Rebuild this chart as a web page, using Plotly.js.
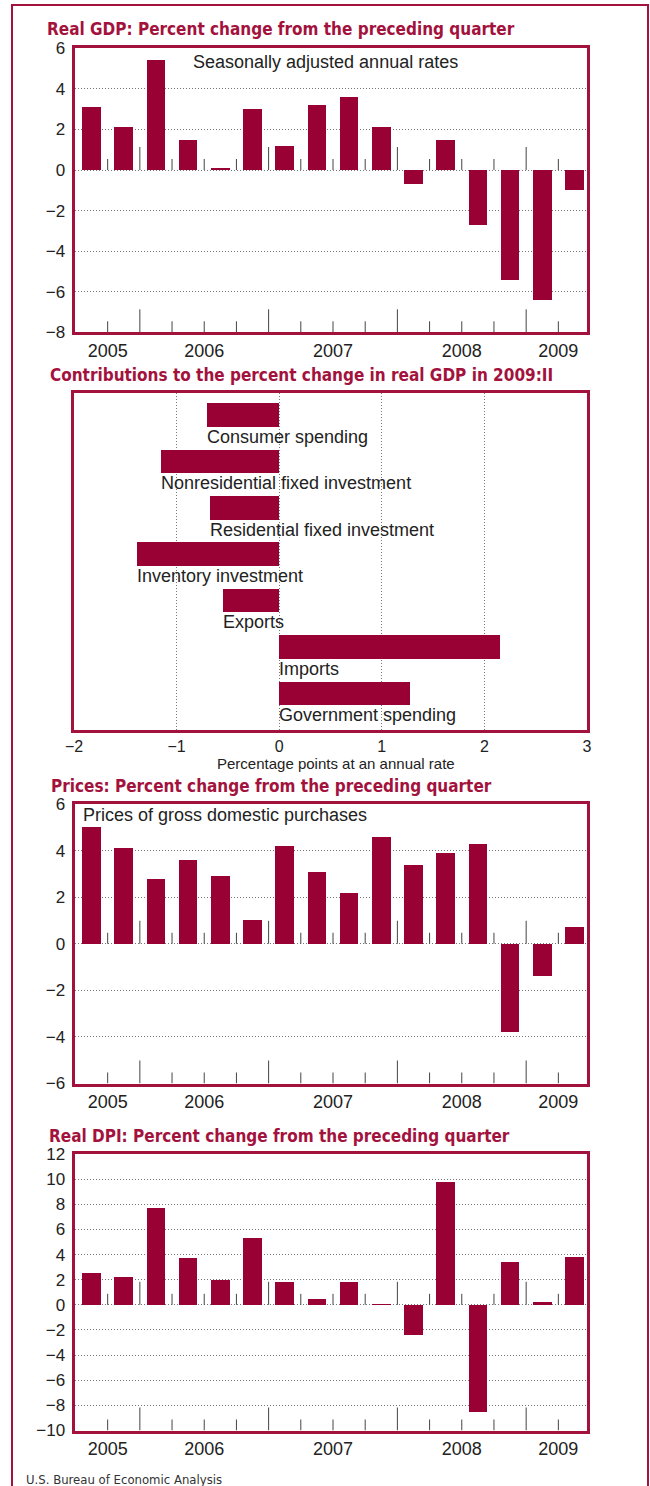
<!DOCTYPE html>
<html><head><meta charset="utf-8">
<script src="https://cdn.plot.ly/plotly-3.0.1.min.js"></script>
<style>html,body{margin:0;padding:0;background:#fff}#chart{width:650px;height:1486px}</style>
</head><body><div id="chart"></div>
<script>
// ---------------- data ----------------
const quarters = ['2005 Q3','2005 Q4','2006 Q1','2006 Q2','2006 Q3','2006 Q4','2007 Q1','2007 Q2',
                  '2007 Q3','2007 Q4','2008 Q1','2008 Q2','2008 Q3','2008 Q4','2009 Q1','2009 Q2'];
const gdpChange   = [3.1, 2.1, 5.4, 1.5, 0.1, 3.0, 1.2, 3.2, 3.6, 2.1, -0.7, 1.5, -2.7, -5.4, -6.4, -1.0];
const priceChange = [5.0, 4.1, 2.8, 3.6, 2.9, 1.0, 4.2, 3.1, 2.2, 4.6, 3.4, 3.9, 4.3, -3.8, -1.4, 0.7];
const dpiChange   = [2.5, 2.2, 7.7, 3.7, 2.0, 5.3, 1.8, 0.5, 1.8, 0.1, -2.4, 9.8, -8.5, 3.4, 0.2, 3.8];
const yearLabels  = ['2005','2006','2007','2008','2009'];

const contribCategories = ['Consumer spending','Nonresidential fixed investment','Residential fixed investment',
                           'Inventory investment','Exports','Imports','Government spending'];
const contribValues = [-0.70, -1.15, -0.67, -1.39, -0.55, 2.15, 1.27];

const gdpTicks   = [6, 4, 2, 0, -2, -4, -6, -8];
const priceTicks = [6, 4, 2, 0, -2, -4, -6];
const dpiTicks   = [12, 10, 8, 6, 4, 2, 0, -2, -4, -6, -8, -10];
const contribTicks = [-2, -1, 0, 1, 2, 3];

// ---------------- helpers ----------------
const W = 650, H = 1486;
const RED = '#990033', BORDER = '#a3123d', TEXT = '#222';
const FONT = 'Liberation Sans, Arial, Helvetica, sans-serif';
const TFONT = 'DejaVu Sans Condensed, Liberation Sans Narrow, Arial Narrow, sans-serif';
const px = v => v / W;
const py = v => 1 - v / H;
const fmt = v => (v < 0 ? '\u2212' + Math.abs(v) : String(v));

const qIdx = quarters.map((q, i) => i);
const qYears = quarters.map(q => q.slice(0, 4));
const boundaries = quarters.slice(1).map((q, i) => ({pos: i + 0.5, yearStart: q.endsWith('Q1')}));
const yearPos = yearLabels.map(y => {
  const idx = qYears.map((v, i) => v === y ? i : -1).filter(i => i >= 0);
  return (idx[0] + idx[idx.length - 1]) / 2;
});

const shapes = [];
function tickShapes(xref, yref, yAnchorBottom) {
  boundaries.forEach(b => {
    const len = b.yearStart ? 23 : 11;
    [yAnchorBottom, 0].forEach(anchor => {
      shapes.push({type: 'line', xref: xref, yref: yref, x0: b.pos, x1: b.pos,
        ysizemode: 'pixel', yanchor: anchor, y0: 0, y1: len,
        line: {color: '#444', width: 1}, layer: 'above'});
    });
  });
}

const gridCommon = {showgrid: true, gridcolor: '#777', gridwidth: 1, griddash: '1px,2px', zeroline: false};
const lineCommon = {showline: true, mirror: true, linecolor: BORDER, linewidth: 3};
const tickFont = {family: FONT, size: 18, color: TEXT};
const yTickFont = {family: FONT, size: 17, color: TEXT};

function barTrace(vals, xa, ya) {
  return {type: 'bar', x: qIdx, y: vals, xaxis: xa, yaxis: ya, width: 0.58,
    marker: {color: RED, line: {width: 0}}, hoverinfo: 'skip', showlegend: false};
}
function xQuarterAxis(domain, anchor) {
  return Object.assign({domain: domain, anchor: anchor, range: [-0.53, 15.39],
    tickmode: 'array', tickvals: yearPos, ticktext: yearLabels, ticks: '', showgrid: false,
    zeroline: false, tickfont: tickFont, fixedrange: true}, lineCommon);
}
function yAxis(domain, anchor, range, ticks) {
  return Object.assign({domain: domain, anchor: anchor, range: range, tickmode: 'array',
    tickvals: ticks, ticktext: ticks.map(fmt), ticks: '', ticklabelstandoff: 3,
    tickfont: yTickFont, fixedrange: true}, gridCommon, lineCommon);
}

const traces = [
  barTrace(gdpChange, 'x', 'y'),
  {type: 'bar', orientation: 'h', x: contribValues, y: contribCategories.map((c, i) => i),
   xaxis: 'x2', yaxis: 'y2', width: 0.51, marker: {color: RED, line: {width: 0}},
   hoverinfo: 'skip', showlegend: false},
  barTrace(priceChange, 'x3', 'y3'),
  barTrace(dpiChange, 'x4', 'y4')
];

tickShapes('x', 'y', -8);
tickShapes('x3', 'y3', -6);
tickShapes('x4', 'y4', -10);

// outer frame
shapes.push({type: 'rect', xref: 'paper', yref: 'paper', x0: px(12), x1: px(648), y0: py(1500), y1: py(5),
  line: {color: BORDER, width: 2}, layer: 'below'});

const annotations = [];
function title(text, x, y) {
  annotations.push({text: '<b>' + text + '</b>', xref: 'paper', yref: 'paper', x: px(x), y: py(y),
    xanchor: 'left', yanchor: 'middle', showarrow: false,
    font: {family: TFONT, size: 17, color: BORDER}});
}
title('Real GDP: Percent change from the preceding quarter', 45, 29);
title('Contributions to the percent change in real GDP in 2009:II', 48, 375);
title('Prices: Percent change from the preceding quarter', 49, 786);
title('Real DPI: Percent change from the preceding quarter', 47, 1136);

annotations.push({text: 'Seasonally adjusted annual rates', xref: 'paper', yref: 'paper',
  x: px(325), y: py(62), xanchor: 'center', yanchor: 'middle', showarrow: false,
  font: {family: FONT, size: 18, color: TEXT}});
annotations.push({text: 'Prices of gross domestic purchases', xref: 'paper', yref: 'paper',
  x: px(81), y: py(815), xanchor: 'left', yanchor: 'middle', showarrow: false,
  font: {family: FONT, size: 18, color: TEXT}});
annotations.push({text: 'Percentage points at an annual rate', xref: 'paper', yref: 'paper',
  x: px(336), y: py(763), xanchor: 'center', yanchor: 'middle', showarrow: false,
  font: {family: FONT, size: 15, color: TEXT}});
annotations.push({text: 'U.S. Bureau of Economic Analysis', xref: 'paper', yref: 'paper',
  x: px(24), y: py(1479), xanchor: 'left', yanchor: 'middle', showarrow: false,
  font: {family: TFONT, size: 13, color: '#333'}});

contribCategories.forEach((c, i) => {
  annotations.push({text: c, xref: 'x2', yref: 'y2', x: Math.min(contribValues[i], 0), y: i + 0.47,
    xanchor: 'left', yanchor: 'middle', xshift: -2, showarrow: false,
    font: {family: FONT, size: 18, color: TEXT}});
});

const layout = {
  width: W, height: H, margin: {l: 0, r: 0, t: 0, b: 0},
  paper_bgcolor: '#fff', plot_bgcolor: '#fff', bargap: 0, showlegend: false,
  xaxis: xQuarterAxis([px(74.5), px(587)], 'y'),
  yaxis: yAxis([py(332.3), py(48.3)], 'x', [-8, 6], gdpTicks),
  xaxis2: Object.assign({domain: [px(74), px(587)], anchor: 'y2', range: [-2, 3], tickmode: 'array',
    tickvals: contribTicks, ticktext: contribTicks.map(fmt), ticks: '', ticklabelstandoff: 0,
    tickfont: {family: FONT, size: 16, color: TEXT}, fixedrange: true}, gridCommon, lineCommon),
  yaxis2: Object.assign({domain: [py(730), py(392.7)], anchor: 'x2', range: [6.79, -0.48],
    showticklabels: false, ticks: '', showgrid: false, zeroline: false, fixedrange: true}, lineCommon),
  xaxis3: xQuarterAxis([px(74.5), px(587)], 'y3'),
  yaxis3: yAxis([py(1083.5), py(804)], 'x3', [-6, 6], priceTicks),
  xaxis4: xQuarterAxis([px(74.5), px(587)], 'y4'),
  yaxis4: yAxis([py(1430.5), py(1154)], 'x4', [-10, 12], dpiTicks),
  shapes: shapes,
  annotations: annotations
};

Plotly.newPlot('chart', traces, layout, {staticPlot: true, displayModeBar: false});
</script></body></html>
